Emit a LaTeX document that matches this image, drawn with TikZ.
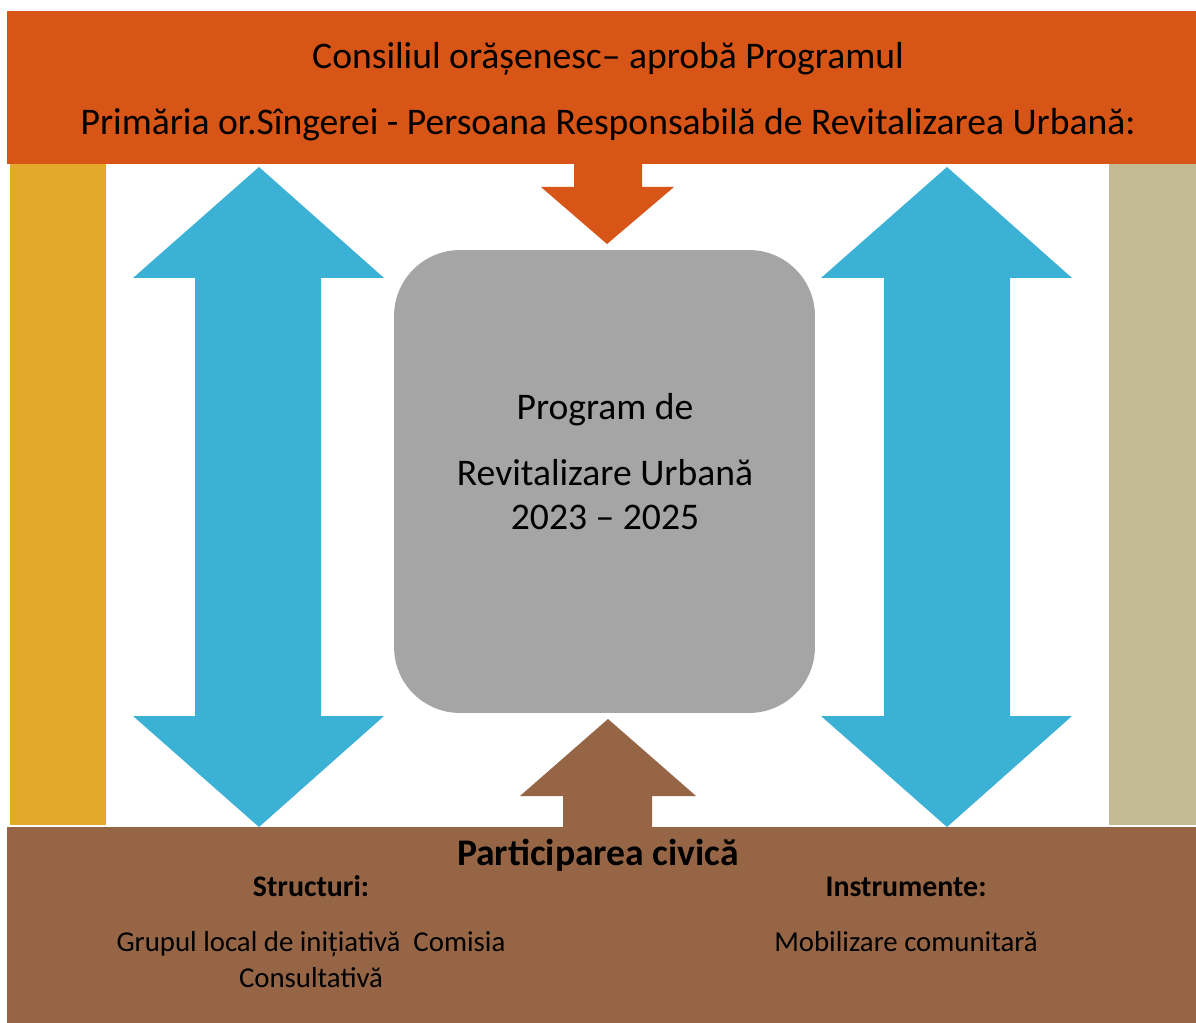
\documentclass[tikz,border=0pt]{standalone}
\usepackage{fontspec}
\setmainfont{Carlito}

\definecolor{councilorange}{HTML}{D75516}
\definecolor{sidegold}{HTML}{E2A92A}
\definecolor{sidebeige}{HTML}{C4BA94}
\definecolor{flowblue}{HTML}{3BB2D5}
\definecolor{progray}{HTML}{A5A5A5}
\definecolor{civicbrown}{HTML}{956546}

\begin{document}
\begin{tikzpicture}[
    x=0.02cm, y=-0.02cm,
    band/.style={rectangle, inner sep=0pt, minimum width=23.78cm},
    sidebar/.style={rectangle, inner sep=0pt, minimum height=13.22cm},
    program/.style={rectangle, rounded corners=1.32cm, fill=progray, inner sep=0pt, minimum width=8.42cm, minimum height=9.26cm},
    bigtext/.style={anchor=base, inner sep=0pt, font=\fontsize{21.4}{25}\selectfont},
    headtext/.style={anchor=base, inner sep=0pt, font=\fontsize{21.4}{25}\selectfont\bfseries},
    subtext/.style={anchor=base, inner sep=0pt, font=\fontsize{17}{20}\selectfont\bfseries},
    itemtext/.style={anchor=base, inner sep=0pt, font=\fontsize{16.4}{19}\selectfont}
]
\useasboundingbox[fill=white] (0,0) rectangle (1196,1023);

% Bands and side bars
\node[band, fill=councilorange, minimum height=3.06cm] (council) at (601.5,87.5) {};
\node[band, fill=civicbrown, minimum height=3.92cm] (civic) at (601.5,925) {};
\node[sidebar, fill=sidegold, minimum width=1.92cm] (leftbar) at (58,494.5) {};
\node[sidebar, fill=sidebeige, minimum width=1.74cm] (rightbar) at (1152.5,494.5) {};

% Programme box
\node[program] (prog) at (604.5,481.5) {};

% Block arrows
\fill[flowblue] (259,167) -- (384,278) -- (321,278) -- (321,716) -- (384,716) -- (259,827)
    -- (133,716) -- (195,716) -- (195,278) -- (133,278) -- cycle;
\fill[flowblue] (947,167) -- (1072,278) -- (1010,278) -- (1010,716) -- (1072,716) -- (947,827)
    -- (821,716) -- (884,716) -- (884,278) -- (821,278) -- cycle;
\fill[councilorange] (574,160) -- (642,160) -- (642,187) -- (674,187) -- (607,244)
    -- (541,187) -- (574,187) -- cycle;
\fill[civicbrown] (608,719) -- (696,796) -- (652,796) -- (652,830) -- (563,830)
    -- (563,796) -- (520,796) -- cycle;

% Top texts
\node[bigtext] (approve) at (608,69) {Consiliul orășenesc– aprobă Programul};
\node[bigtext] (mayor) at (608,135) {Primăria or.Sîngerei - Persoana Responsabilă de Revitalizarea Urbană:};

% Programme texts
\node[bigtext] (progA) at (605,419) {Program de};
\node[bigtext] (progB) at (605,485) {Revitalizare Urbană};
\node[bigtext] (progC) at (605,529) {2023 – 2025};

% Civic participation texts
\node[headtext] (civictitle) at (598,865) {Participarea civică};
\node[subtext] (struct) at (311,896) {Structuri:};
\node[subtext] (instr) at (906,896) {Instrumente:};
\node[itemtext] (groupA) at (311,951) {Grupul local de inițiativă\ \ Comisia};
\node[itemtext] (groupB) at (311,987) {Consultativă};
\node[itemtext] (mobil) at (906,951) {Mobilizare comunitară};

\end{tikzpicture}
\end{document}
